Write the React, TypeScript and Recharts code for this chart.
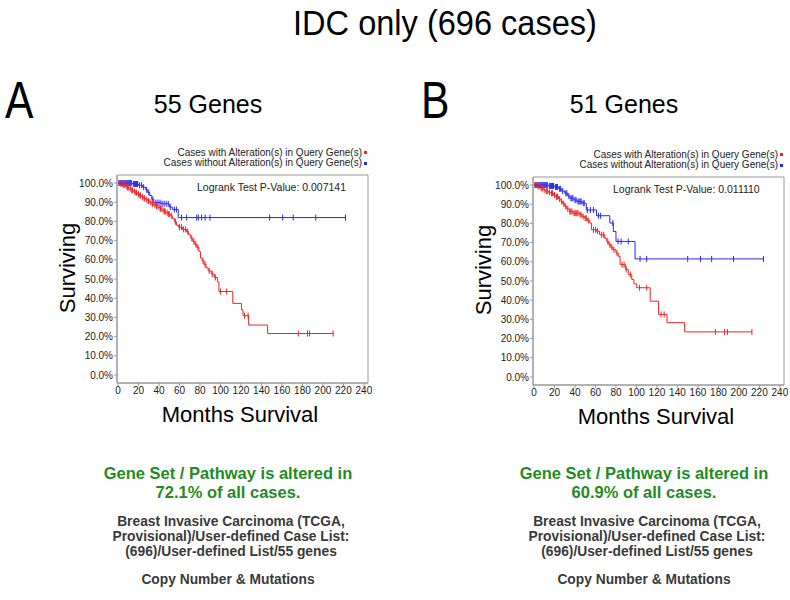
import React from 'react';
import { ComposedChart, Line, XAxis, YAxis, ReferenceArea } from 'recharts';

const xTicks = [0, 20, 40, 60, 80, 100, 120, 140, 160, 180, 200, 220, 240];
const yTicks = [0, 10, 20, 30, 40, 50, 60, 70, 80, 90, 100];

const mainTitle = 'IDC only (696 cases)';
const panelLetters = ['A', 'B'];
const panelTitles = ['55 Genes', '51 Genes'];
const pValues = ['0.007141', '0.011110'];
const alteredPct = ['72.1%', '60.9%'];
const legendLabels = ['Cases with Alteration(s) in Query Gene(s)', 'Cases without Alteration(s) in Query Gene(s)'];
const studyLines = ['Breast Invasive Carcinoma (TCGA,', 'Provisional)/User-defined Case List:', '(696)/User-defined List/55 genes'];
const profileLine = 'Copy Number & Mutations';

// Panel A: altered (red)
const redStepsA: [number, number][] = [
  [0, 100], [2, 99.5], [5, 99], [7, 98.3], [9, 97.6], [11, 97], [13, 96.3], [15, 95.6], [17, 94.9], [19, 94.2],
  [21, 93.5], [23, 92.8], [25, 92], [27, 91.3], [29, 90.6], [31, 89.9], [33, 89.2], [35, 88.5], [37, 87.9],
  [39, 87.3], [41, 86.6], [43, 85.9], [45, 85.2], [47, 84.5], [49, 83.8], [51, 83], [53, 81.5], [55, 79.8],
  [57, 78], [59, 77], [63, 75.8], [67, 74.7], [69, 73], [71, 71.2], [73, 69.6], [75, 68], [77, 66.4], [79, 64.3],
  [80.5, 61], [82, 59.5], [84, 57.5], [86, 55.8], [88, 54.2], [91, 52.6], [94, 50.8], [97, 48.5], [98.5, 43.5],
  [112, 37.3], [120.5, 34], [122, 30.9], [127.5, 26], [146, 21.6],
];
const redCensorA = [
  1, 3, 4, 5.5, 6, 8, 9.5, 10, 12, 13.5, 14, 16, 17.5, 18, 20, 21.5, 22, 24, 25.5, 26, 28, 29.5, 30, 32, 33.5,
  34, 36, 37.5, 38, 40, 41.5, 42, 44, 45.5, 46, 48, 49.5, 50, 52,
  56, 60, 62, 64, 66, 68, 72, 74, 76, 78, 83, 85, 89, 92, 95, 100, 106, 123.5, 127, 176, 185, 187, 210,
];
// Panel A: unaltered (blue)
const blueStepsA: [number, number][] = [
  [0, 100], [14, 99.5], [20, 98.8], [24, 97.8], [27, 96.5], [29, 95], [31, 93.5], [33, 91.5], [35, 89.8],
  [42, 89.2], [50, 87.5], [53, 86.2], [58.8, 82],
];
const blueCensorA = [
  1, 2, 3, 4, 5, 6, 7, 8, 9, 10, 11, 12, 13, 15, 16, 17, 18, 19, 21, 23, 25, 28, 30, 34, 37, 39, 41, 43, 45,
  47, 49, 51, 55, 57, 62, 67, 76.8, 78.4, 81.6, 85, 89.8, 148, 160.7, 171, 193, 222,
];

// Panel B: altered (red)
const redStepsB: [number, number][] = [
  [0, 100], [3, 99.3], [6.5, 98.3], [9, 97.5], [11.5, 96.8], [14, 96.2], [16.4, 95.7], [19, 94.8], [21.3, 93.9],
  [24, 92.7], [26.5, 91.4], [28, 90.3], [30, 88.8], [32, 87.5], [34.7, 86.2], [38, 85.3], [44.5, 84.5], [47, 83.6],
  [49.5, 82.7], [52, 81.5], [54.4, 80.2], [56, 76.7], [61, 76], [64, 74.1], [69, 72.3], [71, 70.6], [73, 68.9],
  [75, 67.6], [77, 66.3], [80, 64.5], [82.3, 62.8], [84, 58.5], [89.5, 56], [92, 53.4], [95.4, 50.8], [97.5, 48.5],
  [100.3, 46.5], [113.4, 39.5], [121.6, 32.6], [129.8, 28.3], [147, 23.5],
];
const redCensorB = [
  1, 2, 4, 5, 7, 8, 10, 12, 13, 15, 17, 18, 20, 22, 23, 25, 27, 29, 31, 33, 35, 36, 37, 39, 40, 41, 42, 43, 45, 46,
  48, 50, 51, 53, 58, 60, 62, 66, 68, 72, 74, 76, 78, 81, 86, 88, 90, 94, 103, 110, 124, 127, 177, 186, 188.8, 212.7,
];
// Panel B: unaltered (blue)
const blueStepsB: [number, number][] = [
  [0, 100], [14, 99.5], [20, 99], [24, 98], [27, 96.8], [30, 95.7], [33, 94.2], [35, 93.1], [39, 92.2],
  [42, 91.4], [47, 90.5], [51, 87], [61, 84], [74, 80.2], [77.4, 75.8], [80, 70.6], [98.6, 61.5],
];
const blueCensorB = [
  1, 2, 3, 4, 5, 6, 7, 8, 9, 10, 11, 12, 13, 15, 16, 17, 18, 19, 21, 22, 23, 25, 26, 28, 31, 32, 34, 36, 37, 38,
  40, 41, 43, 44, 45, 46, 48, 49, 52, 55, 58, 63, 65, 77, 82, 85, 92, 103.5, 110, 150, 162.5, 173.4, 194.7, 224,
];

const RED = '#ee2424';
const BLUE = '#2828ee';
const FONT = '"Liberation Sans", Arial, Helvetica, sans-serif';

type Pt = { t: number; s: number; c: boolean };

function buildSeries(steps: [number, number][], censors: number[]): Pt[] {
  const pts: Pt[] = steps.map(([t, s]) => ({ t, s, c: false }));
  censors.forEach((t) => {
    let level = steps[0][1];
    for (const [st, ss] of steps) if (st <= t) level = ss;
    pts.push({ t, s: level, c: true });
  });
  pts.sort((a, b) => a.t - b.t || (a.c ? 1 : 0) - (b.c ? 1 : 0));
  return pts;
}

const censorDot = (color: string) => (props: any) => {
  const { cx, cy, payload, index } = props;
  if (!payload || !payload.c || cx == null || cy == null) return <g key={`d${index}`} />;
  return (
    <line key={`d${index}`} x1={cx} x2={cx} y1={cy - 3} y2={cy + 3} stroke={color} strokeWidth={1} />
  );
};

const X_DOMAIN: [number, number] = [-1, 244];
const Y_DOMAIN: [number, number] = [-4.17, 104.17];

function KMChart({ red, blue }: { red: Pt[]; blue: Pt[] }) {
  return (
    <ComposedChart width={400} height={420} margin={{ top: 175, right: 32, bottom: 17, left: 67 }}>
      <XAxis
        type="number"
        dataKey="t"
        domain={X_DOMAIN}
        ticks={xTicks}
        allowDataOverflow
        height={20}
        tickSize={3}
        tickMargin={1}
        interval={0}
        stroke="#999"
        tick={{ fontSize: 10, fill: '#222', fontFamily: FONT }}
      />
      <YAxis
        type="number"
        dataKey="s"
        domain={Y_DOMAIN}
        ticks={yTicks}
        allowDataOverflow
        width={50}
        tickSize={3}
        tickMargin={1}
        interval={0}
        stroke="#999"
        tickFormatter={(v: number) => `${v.toFixed(1)}%`}
        tick={{ fontSize: 10, fill: '#222', fontFamily: FONT }}
      />
      <ReferenceArea
        x1={X_DOMAIN[0]}
        x2={X_DOMAIN[1]}
        y1={Y_DOMAIN[0]}
        y2={Y_DOMAIN[1]}
        fill="none"
        stroke="#999"
        strokeWidth={1}
        ifOverflow="visible"
      />
      <Line
        data={blue}
        dataKey="s"
        type="stepAfter"
        stroke={BLUE}
        strokeWidth={1}
        dot={censorDot(BLUE)}
        activeDot={false}
        isAnimationActive={false}
      />
      <Line
        data={red}
        dataKey="s"
        type="stepAfter"
        stroke={RED}
        strokeWidth={1}
        dot={censorDot(RED)}
        activeDot={false}
        isAnimationActive={false}
      />
    </ComposedChart>
  );
}

function CText({ cx, cy, size, children, bold, color, width = 400, scaleX = 1 }: any) {
  return (
    <div
      style={{
        position: 'absolute',
        left: cx - width / 2,
        top: cy - size / 2,
        width,
        textAlign: 'center',
        fontSize: size,
        lineHeight: `${size}px`,
        fontWeight: bold ? 'bold' : 'normal',
        color: color || '#000',
        fontFamily: FONT,
        whiteSpace: 'nowrap',
        transform: scaleX !== 1 ? `scaleX(${scaleX})` : undefined,
      }}
    >
      {children}
    </div>
  );
}

function Panel({ idx, dx, dy, red, blue }: { idx: number; dx: number; dy: number; red: Pt[]; blue: Pt[] }) {
  return (
    <div style={{ position: 'absolute', left: dx, top: 0, width: 420, height: 600 }}>
      <div
        style={{
          position: 'absolute',
          left: 5,
          top: 74,
          fontSize: 52,
          lineHeight: '52px',
          fontFamily: FONT,
          transform: 'scaleX(0.82)',
          transformOrigin: 'left center',
        }}
      >
        {panelLetters[idx]}
      </div>
      <CText cx={208} cy={104} size={25}>{panelTitles[idx]}</CText>
      <div style={{ position: 'absolute', left: 0, top: dy, width: 420, height: 430 }}>
        <KMChart red={red} blue={blue} />
        {legendLabels.map((lab, i) => (
          <div
            key={lab}
            style={{
              position: 'absolute',
              right: 420 - 367,
              top: 147.5 + i * 10.6,
              fontSize: 10,
              lineHeight: '10px',
              fontFamily: FONT,
              color: '#222',
              whiteSpace: 'nowrap',
              display: 'flex',
              alignItems: 'center',
            }}
          >
            <span>{lab}</span>
            <span style={{ display: 'inline-block', width: 3, height: 3, background: i === 0 ? RED : BLUE, marginLeft: 2 }} />
          </div>
        ))}
        <div
          style={{
            position: 'absolute',
            left: 197,
            top: 181.5,
            fontSize: 10.5,
            lineHeight: '10.5px',
            fontFamily: FONT,
            color: '#222',
            whiteSpace: 'nowrap',
          }}
        >
          {`Logrank Test P-Value: ${pValues[idx]}`}
        </div>
        <div
          style={{
            position: 'absolute',
            left: 68 - 60,
            top: 268 - 11,
            width: 120,
            textAlign: 'center',
            fontSize: 22,
            lineHeight: '22px',
            fontFamily: FONT,
            transform: 'rotate(-90deg)',
            transformOrigin: '60px 11px',
          }}
        >
          Surviving
        </div>
        <CText cx={240} cy={415} size={22}>Months Survival</CText>
      </div>
      <CText cx={228} cy={473} size={16.5} bold color="#1f8c1f">Gene Set / Pathway is altered in</CText>
      <CText cx={228} cy={492} size={16.5} bold color="#1f8c1f">{`${alteredPct[idx]} of all cases.`}</CText>
      {studyLines.map((l, i) => (
        <CText key={l} cx={231} cy={522 + i * 15} size={13.8} bold color="#3a3a3a">{l}</CText>
      ))}
      <CText cx={228} cy={580} size={13.8} bold color="#3a3a3a">{profileLine}</CText>
    </div>
  );
}

export default function App() {
  const redA = buildSeries(redStepsA, redCensorA);
  const blueA = buildSeries(blueStepsA, blueCensorA);
  const redB = buildSeries(redStepsB, redCensorB);
  const blueB = buildSeries(blueStepsB, blueCensorB);
  return (
    <div style={{ position: 'absolute', left: 0, top: 0, width: 790, height: 600, background: '#fff', overflow: 'hidden' }}>
      <CText cx={445} cy={22} size={35} scaleX={0.93} width={500}>{mainTitle}</CText>
      <Panel idx={0} dx={0} dy={0} red={redA} blue={blueA} />
      <Panel idx={1} dx={416} dy={2} red={redB} blue={blueB} />
    </div>
  );
}
